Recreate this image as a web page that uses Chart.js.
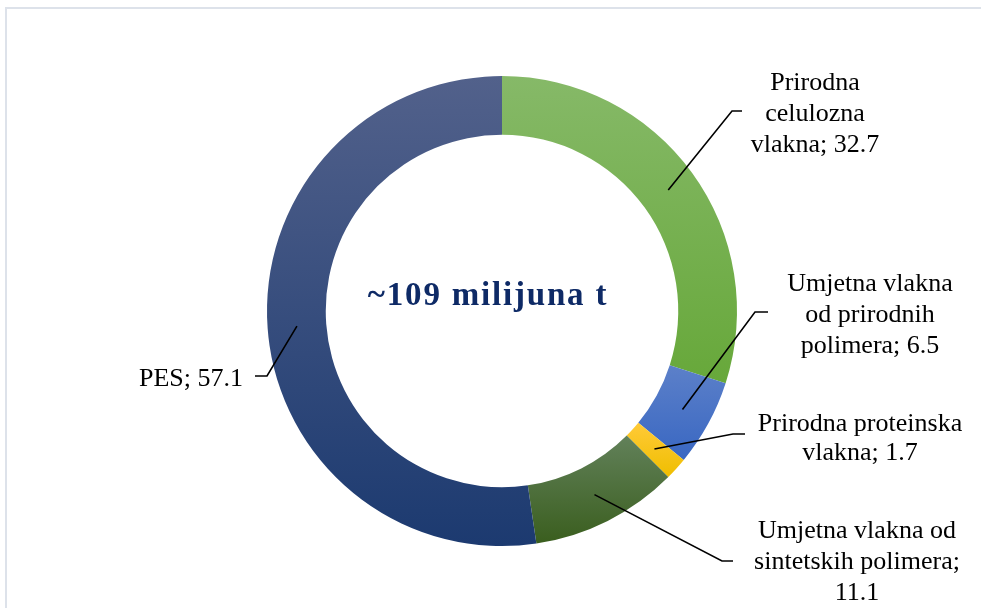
<!DOCTYPE html>
<html>
<head>
<meta charset="utf-8">
<script src="https://cdn.jsdelivr.net/npm/chart.js"></script>
<style>
  html, body { margin: 0; padding: 0; background: #fff; overflow: hidden; }
  #frame { position: absolute; left: 5px; top: 7px; width: 1100px; height: 700px; border: 2px solid #dde2ea; }
  #wrap { position: absolute; left: 0; top: 0; width: 981px; height: 608px; }
</style>
</head>
<body>
<div id="frame"></div>
<div id="wrap"><canvas id="donut"></canvas></div>
<script>
// data
const categories = [
  "Prirodna celulozna vlakna",
  "Umjetna vlakna od prirodnih polimera",
  "Prirodna proteinska vlakna",
  "Umjetna vlakna od sintetskih polimera",
  "PES",
];
const values = [32.7, 6.5, 1.7, 11.1, 57.1];
const labelLines = [
  ["Prirodna", "celulozna", "vlakna; 32.7"],
  ["Umjetna vlakna", "od prirodnih", "polimera; 6.5"],
  ["Prirodna proteinska", "vlakna; 1.7"],
  ["Umjetna vlakna od", "sintetskih polimera;", "11.1"],
  ["PES; 57.1"],
];
const centerText = "~109 milijuna t";

// colours (top / bottom of each slice gradient)
const topColors = ["#86b968", "#5c80c9", "#ffca38", "#62815a", "#52618b"];
const bottomColors = ["#67a83a", "#3967c2", "#efbe00", "#3a5e1e", "#1c3a70"];

// label layout, relative to chart centre
const labelLayout = [
  { bend: [230, -200], end: [240, -200], x: 313, y: [-221, -190, -159], align: "center" },
  { bend: [253, 1], end: [266, 1], x: 368, y: [-20, 11, 42], align: "center" },
  { bend: [231, 123], end: [243, 123], x: 358, y: [120, 149], align: "center" },
  { bend: [220, 250], end: [231, 250], x: 355, y: [227, 258, 289], align: "center" },
  { bend: [-235, 65], end: [-247, 65], x: -259, y: [75], align: "right" },
];

const CUT = 0.75;

function sliceGradient(c) {
  const chart = c.chart;
  const area = chart.chartArea;
  const i = c.dataIndex;
  if (!area) return topColors[i];
  const cx = (area.left + area.right) / 2;
  const cy = (area.top + area.bottom) / 2;
  const R = Math.min(area.width, area.height) / 2;
  const r = R * CUT;
  const total = values.reduce((a, b) => a + b, 0);
  let before = 0;
  for (let k = 0; k < i; k++) before += values[k];
  const a0 = before / total * Math.PI * 2 - Math.PI / 2;
  const a1 = (before + values[i]) / total * Math.PI * 2 - Math.PI / 2;
  let ymin = Infinity, ymax = -Infinity;
  for (let s = 0; s <= 60; s++) {
    const a = a0 + (a1 - a0) * s / 60;
    for (const rad of [r, R]) {
      const y = cy + rad * Math.sin(a);
      ymin = Math.min(ymin, y);
      ymax = Math.max(ymax, y);
    }
  }
  const g = chart.ctx.createLinearGradient(0, ymin, 0, ymax);
  g.addColorStop(0, topColors[i]);
  g.addColorStop(1, bottomColors[i]);
  return g;
}

const labelPlugin = {
  id: "leaderLabels",
  afterDatasetsDraw(chart) {
    const ctx = chart.ctx;
    const arcs = chart.getDatasetMeta(0).data;
    ctx.save();
    arcs.forEach((arc, i) => {
      const L = labelLayout[i];
      const cx = arc.x, cy = arc.y;
      const p = arc.getCenterPoint();
      ctx.beginPath();
      ctx.moveTo(p.x, p.y);
      ctx.lineTo(cx + L.bend[0], cy + L.bend[1]);
      ctx.lineTo(cx + L.end[0], cy + L.end[1]);
      ctx.strokeStyle = "#000";
      ctx.lineWidth = 1.6;
      ctx.stroke();
      ctx.fillStyle = "#000";
      ctx.font = '26px "Liberation Serif"';
      ctx.textAlign = L.align;
      ctx.textBaseline = "alphabetic";
      labelLines[i].forEach((t, j) => ctx.fillText(t, cx + L.x, cy + L.y[j]));
    });
    const a = arcs[0];
    ctx.fillStyle = "#0e2a66";
    ctx.font = 'bold 33px "Liberation Serif"';
    ctx.letterSpacing = "1.8px";
    ctx.textAlign = "center";
    ctx.fillText(centerText, a.x - 14, a.y - 6);
    ctx.restore();
  },
};

new Chart(document.getElementById("donut"), {
  type: "doughnut",
  data: {
    labels: categories,
    datasets: [
      {
        data: values,
        backgroundColor: sliceGradient,
        borderWidth: 0,
      },
    ],
  },
  options: {
    responsive: true,
    maintainAspectRatio: false,
    animation: false,
    cutout: "75%",
    layout: {
      padding: { top: 76, bottom: 62, left: 267, right: 244 },
    },
    plugins: {
      legend: { display: false },
      tooltip: { enabled: false },
    },
  },
  plugins: [labelPlugin],
});
</script>
</body>
</html>
